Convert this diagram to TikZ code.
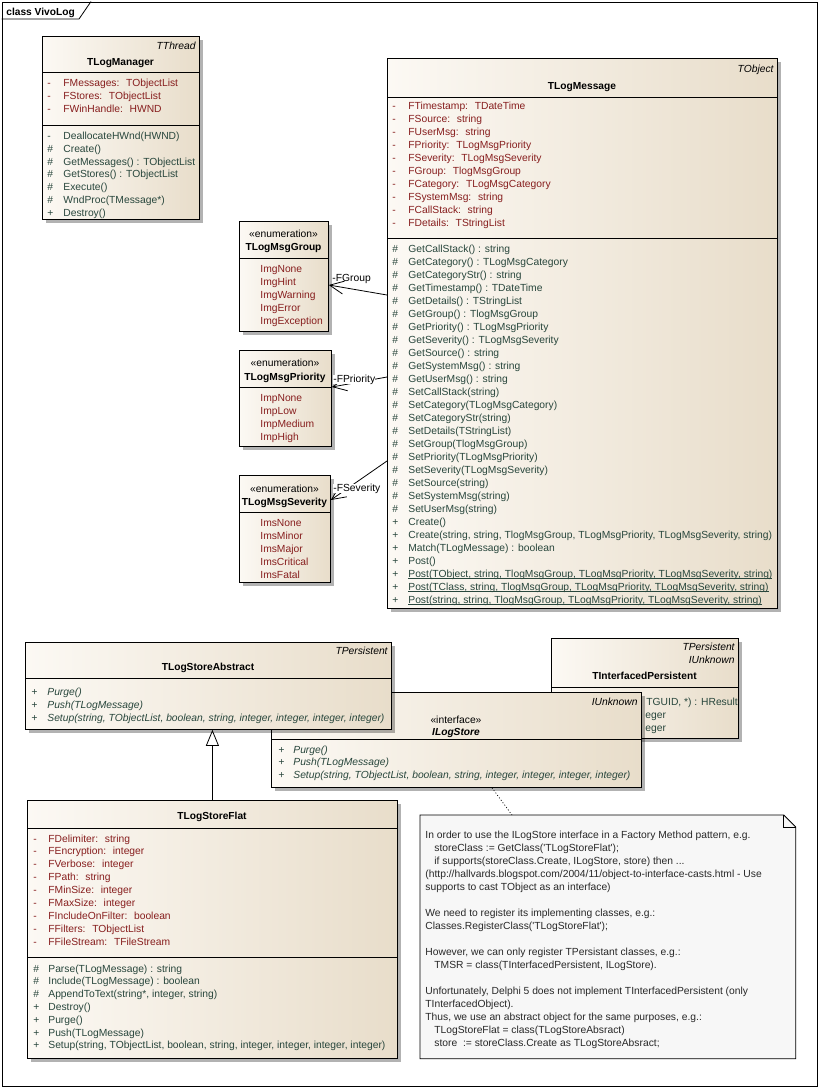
\documentclass[tikz,border=0pt]{standalone}
\usepackage{fontspec}
\newfontfamily\uf{Liberation Sans}
\usetikzlibrary{arrows.meta,shadows}
\definecolor{attrc}{RGB}{135,30,30}
\definecolor{methc}{RGB}{40,70,60}
\definecolor{boxl}{RGB}{252,249,244}
\definecolor{boxr}{RGB}{232,221,202}
\definecolor{notef}{RGB}{247,247,247}
\definecolor{notet}{RGB}{40,40,40}
\newcommand\fs{\fontsize{10.3pt}{12pt}\selectfont}
\newcommand\fsb{\fontsize{10.2pt}{12pt}\selectfont}
\newsavebox\ulbox
\newcommand\ulin[1]{\sbox\ulbox{#1}\rlap{\rule[-1.8pt]{\wd\ulbox}{0.6pt}}\usebox\ulbox}
% class box: name, left, top, right, bottom
\newcommand\cbox[5]{\node[clsbox, minimum width={(#4)-(#2)}, minimum height={(#5)-(#3)}] (#1) at (#2,#3) {};}
% compartment divider across a box at a given y
\newcommand\hdiv[2]{\draw[divline] (#1.west |- 0,#2) -- (#1.east |- 0,#2);}
% rows of "visibility / member": style, name, symbol x, text x, first baseline, step, list
\newcommand\rowlist[7]{%
  \foreach \mysym/\mytext [count=\i] in {#7}{%
    \node[#1] (#2s\i) at (#3,{#5+#6*(\i-1)}) {\mysym};
    \node[#1] (#2t\i) at (#4,{#5+#6*(\i-1)}) {\mytext};
  }}
% enumeration literals: style, name, x, first baseline, step, list
\newcommand\litlist[6]{%
  \foreach \mytext [count=\i] in {#6}{%
    \node[#1] (#2\i) at (#3,{#4+#5*(\i-1)}) {\mytext};
  }}
\begin{document}
\begin{tikzpicture}[x=1pt,y=-1pt,line width=0.8pt,
  clsbox/.style={draw=black, left color=boxl, right color=boxr, inner sep=0pt, anchor=north west,
    drop shadow={shadow xshift=4pt,shadow yshift=-4pt,opacity=0.3,fill=black}},
  txt/.style={inner sep=0pt, anchor=base west, font=\uf\fs},
  attr/.style={txt, text=attrc},
  meth/.style={txt, text=methc},
  imeth/.style={meth, font=\uf\fs\itshape},
  hdr/.style={txt, anchor=base east, font=\uf\fs\itshape},
  nm/.style={txt, anchor=base, font=\uf\fsb\bfseries},
  inm/.style={txt, anchor=base, font=\uf\fsb\bfseries\itshape},
  stereo/.style={txt, anchor=base},
  lbl/.style={txt, fill=white},
  notetxt/.style={txt, text=notet},
  divline/.style={draw=black},
  assoc/.style={draw=black, -{Straight Barb[length=14pt,width=13pt]}},
  inherit/.style={draw=black, -{Triangle[fill=white,length=16pt,width=13pt]}},
  notelink/.style={draw=black, line width=0.7pt, dash pattern=on 1pt off 2pt}]
\useasboundingbox (0,0) rectangle (819,1088);

% diagram frame and its name tab
\node[draw=black, inner sep=0pt, anchor=north west, minimum width=815.5pt, minimum height=1084.5pt] (frame) at (1.5,1.5) {};
\draw (frame.west |- 0,19) -- (79,19) -- (91,1.5);
\node[txt, font=\uf\fsb\bfseries] (title) at (6,15) {class VivoLog};

% TLogManager
\cbox{mgr}{42}{36}{199}{219}
\node[hdr] (mgrp) at (196,49) {TThread};
\node[nm] (mgrn) at (120.5,65) {TLogManager};
\hdiv{mgr}{72}
\rowlist{attr}{mgra}{47}{63}{86.3}{13}{-/{FMessages:~ TObjectList}, -/{FStores:~ TObjectList}, -/{FWinHandle:~ HWND}}
\hdiv{mgr}{125}
\rowlist{meth}{mgrm}{47}{63}{139.3}{12.85}{-/{DeallocateHWnd(HWND)}, \#/{Create()}, \#/{GetMessages() : TObjectList}, \#/{GetStores() : TObjectList}, \#/{Execute()}, \#/{WndProc(TMessage*)}, +/{Destroy()}}

% TLogMessage
\cbox{msg}{387}{58}{777}{608}
\node[hdr] (msgp) at (774,72) {TObject};
\node[nm] (msgn) at (582,89) {TLogMessage};
\hdiv{msg}{97}
\rowlist{attr}{msga}{392}{408}{109}{13}{-/{FTimestamp:~ TDateTime}, -/{FSource:~ string}, -/{FUserMsg:~ string}, -/{FPriority:~ TLogMsgPriority}, -/{FSeverity:~ TLogMsgSeverity}, -/{FGroup:~ TlogMsgGroup}, -/{FCategory:~ TLogMsgCategory}, -/{FSystemMsg:~ string}, -/{FCallStack:~ string}, -/{FDetails:~ TStringList}}
\hdiv{msg}{238}
\rowlist{meth}{msgm}{392}{408}{252}{13}{\#/{GetCallStack() : string}, \#/{GetCategory() : TLogMsgCategory}, \#/{GetCategoryStr() : string}, \#/{GetTimestamp() : TDateTime}, \#/{GetDetails() : TStringList}, \#/{GetGroup() : TlogMsgGroup}, \#/{GetPriority() : TLogMsgPriority}, \#/{GetSeverity() : TLogMsgSeverity}, \#/{GetSource() : string}, \#/{GetSystemMsg() : string}, \#/{GetUserMsg() : string}, \#/{SetCallStack(string)}, \#/{SetCategory(TLogMsgCategory)}, \#/{SetCategoryStr(string)}, \#/{SetDetails(TStringList)}, \#/{SetGroup(TlogMsgGroup)}, \#/{SetPriority(TLogMsgPriority)}, \#/{SetSeverity(TLogMsgSeverity)}, \#/{SetSource(string)}, \#/{SetSystemMsg(string)}, \#/{SetUserMsg(string)}, +/{Create()}, +/{Create(string, string, TlogMsgGroup, TLogMsgPriority, TLogMsgSeverity, string)}, +/{Match(TLogMessage) : boolean}, +/{Post()}, +/{\ulin{Post(TObject, string, TlogMsgGroup, TLogMsgPriority, TLogMsgSeverity, string)}}, +/{\ulin{Post(TClass, string, TlogMsgGroup, TLogMsgPriority, TLogMsgSeverity, string)}}, +/{\ulin{Post(string, string, TlogMsgGroup, TLogMsgPriority, TLogMsgSeverity, string)}}}

% enumerations
\cbox{grp}{239}{221}{328}{331}
\node[stereo] (grps) at (283.5,237) {«enumeration»};
\node[nm] (grpn) at (283.5,250) {TLogMsgGroup};
\hdiv{grp}{258}
\litlist{attr}{grpl}{260}{272}{13}{ImgNone, ImgHint, ImgWarning, ImgError, ImgException}

\cbox{pri}{239}{350}{331}{446}
\node[stereo] (pris) at (285,366) {«enumeration»};
\node[nm] (prin) at (285,380) {TLogMsgPriority};
\hdiv{pri}{387}
\litlist{attr}{pril}{260}{401}{13}{ImpNone, ImpLow, ImpMedium, ImpHigh}

\cbox{sev}{239}{475}{330}{582}
\node[stereo] (sevs) at (284.5,492) {«enumeration»};
\node[nm] (sevn) at (284.5,505) {TLogMsgSeverity};
\hdiv{sev}{512}
\litlist{attr}{sevl}{260}{526}{13}{ImsNone, ImsMinor, ImsMajor, ImsCritical, ImsFatal}

% associations from TLogMessage to the enumerations
\draw[assoc] (msg.west |- 0,295) -- (grp.east |- 0,285);
\node[txt] (grpr) at (332,281) {-FGroup};
\draw[assoc] (msg.west |- 0,377) -- (pri.east |- 0,387);
\node[lbl] (prir) at (333,382) {-FPriority};
\draw[assoc] (msg.west |- 0,461) -- (sev.east |- 0,500);
\node[lbl] (sevr) at (333,491) {-FSeverity};

% TInterfacedPersistent (partly hidden behind ILogStore)
\cbox{tip}{551}{638}{738}{738}
\node[hdr] (tipp1) at (735,650) {TPersistent};
\node[hdr] (tipp2) at (735,663) {IUnknown};
\node[nm] (tipn) at (644.5,679) {TInterfacedPersistent};
\hdiv{tip}{687}
\node[meth] (tipm1) at (646,705) {TGUID, *) : HResult};
\node[meth] (tipm2) at (645,718) {eger};
\node[meth] (tipm3) at (645,731) {eger};

% ILogStore interface
\cbox{ils}{271}{692}{641}{787}
\node[hdr] (ilsp) at (638,705) {IUnknown};
\node[stereo] (ilss) at (456,723) {«interface»};
\node[inm] (ilsn) at (456,735) {ILogStore};
\hdiv{ils}{739}
\rowlist{imeth}{ilsm}{278}{293}{753}{12.9}{+/{Purge()}, +/{Push(TLogMessage)}, +/{Setup(string, TObjectList, boolean, string, integer, integer, integer, integer)}}

% TLogStoreAbstract
\cbox{abs}{25}{642}{391}{729}
\node[hdr] (absp) at (388,654) {TPersistent};
\node[nm] (absn) at (208,670) {TLogStoreAbstract};
\hdiv{abs}{678}
\rowlist{imeth}{absm}{31}{47}{695}{13}{+/{Purge()}, +/{Push(TLogMessage)}, +/{Setup(string, TObjectList, boolean, string, integer, integer, integer, integer)}}

% TLogStoreFlat
\cbox{flat}{27}{800}{397}{1058}
\node[nm] (flatn) at (212,819) {TLogStoreFlat};
\hdiv{flat}{828}
\rowlist{attr}{flata}{33}{48}{842}{12.9}{-/{FDelimiter:~ string}, -/{FEncryption:~ integer}, -/{FVerbose:~ integer}, -/{FPath:~ string}, -/{FMinSize:~ integer}, -/{FMaxSize:~ integer}, -/{FIncludeOnFilter:~ boolean}, -/{FFilters:~ TObjectList}, -/{FFileStream:~ TFileStream}}
\hdiv{flat}{957}
\rowlist{meth}{flatm}{33}{48}{972}{12.83}{\#/{Parse(TLogMessage) : string}, \#/{Include(TLogMessage) : boolean}, \#/{AppendToText(string*, integer, string)}, +/{Destroy()}, +/{Purge()}, +/{Push(TLogMessage)}, +/{Setup(string, TObjectList, boolean, string, integer, integer, integer, integer)}}

% generalization
\draw[inherit] (flat.north) -- (flat.north |- abs.south);

% note with folded corner
\node[inner sep=0pt, anchor=north west, minimum width=375pt, minimum height=243pt] (note) at (420,815) {};
\draw[fill=notef] (note.north west) -- ([xshift=-12pt]note.north east) -- ([yshift=-12pt]note.north east) -- (note.south east) -- (note.south west) -- cycle;
\draw ([xshift=-12pt]note.north east) -- ([xshift=-12pt,yshift=-12pt]note.north east) -- ([yshift=-12pt]note.north east);
\foreach \n/\x/\mytext in {
  1/425/{In order to use the ILogStore interface in a Factory Method pattern, e.g.},
  2/434/{storeClass := GetClass(\textquotesingle TLogStoreFlat\textquotesingle);},
  3/434/{if supports(storeClass.Create, ILogStore, store) then ...},
  4/425/{(http://hallvards.blogspot.com/2004/11/object-to-interface-casts.html - Use},
  5/425/{supports to cast TObject as an interface)},
  7/425/{We need to register its implementing classes, e.g.:},
  8/425/{Classes.RegisterClass(\textquotesingle TLogStoreFlat\textquotesingle);},
  10/425/{However, we can only register TPersistant classes, e.g.:},
  11/434/{TMSR = class(TInterfacedPersistent, ILogStore).},
  13/425/{Unfortunately, Delphi 5 does not implement TInterfacedPersistent (only},
  14/425/{TInterfacedObject).},
  15/425/{Thus, we use an abstract object for the same purposes, e.g.:},
  16/434/{TLogStoreFlat = class(TLogStoreAbsract)},
  17/434/{store~ := storeClass.Create as TLogStoreAbsract;}}
  \node[notetxt] (nl\n) at (\x,{838+13*(\n-1)}) {\mytext};
\draw[notelink] (492,0 |- ils.south) -- (512,0 |- note.north);
\end{tikzpicture}
\end{document}
